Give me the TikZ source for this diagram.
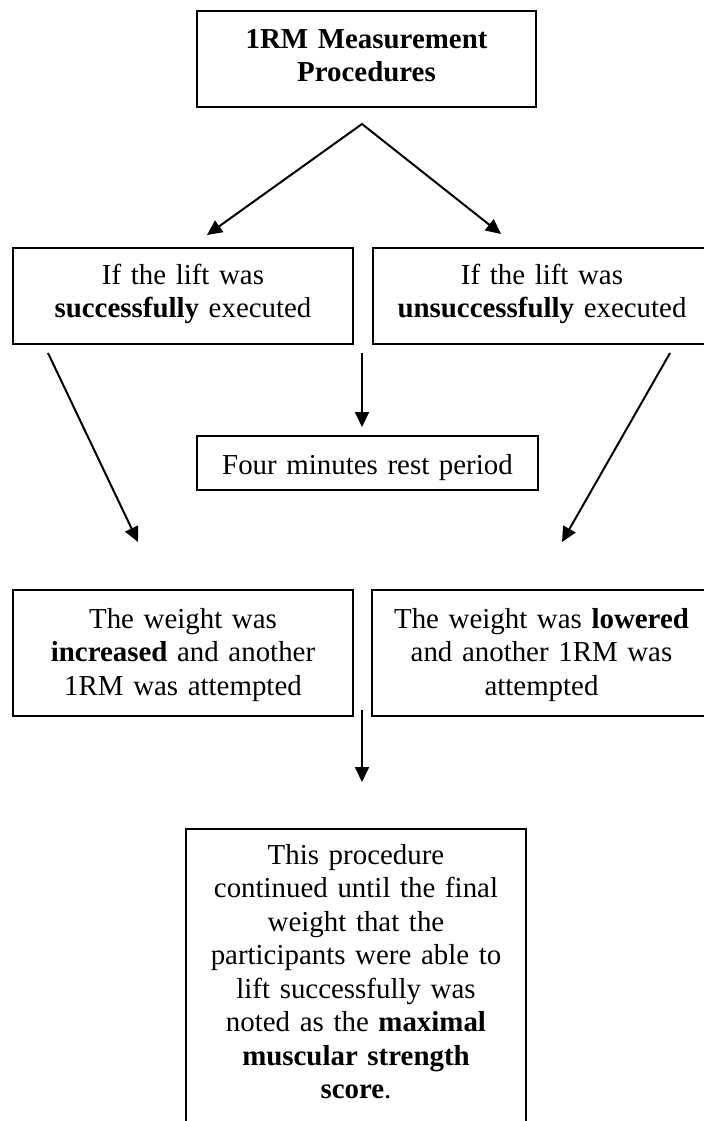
\documentclass[tikz,border=0pt]{standalone}
\usepackage{fontspec}
\setmainfont{Liberation Serif}
\usetikzlibrary{arrows.meta}
\begin{document}
\begin{tikzpicture}[x=0.5pt,y=-0.5pt,
  box/.style={draw, line width=1pt, inner sep=0pt, align=center, anchor=north west,
    font=\fontsize{14.45pt}{16.75pt}\selectfont},
  tipstyle/.style={line width=1pt},
  conn/.style={line width=1pt, -{Triangle[length=7.5pt,width=7pt]}},
  conn2/.style={line width=1pt, {Triangle[length=7.5pt,width=7pt]}-{Triangle[length=7.5pt,width=7pt]}}]
\useasboundingbox (0,0) rectangle (704,1121);

\node[box, text width=169.5pt, text height=18.5pt, text depth=29.5pt] (top) at (196,10)
  {\textbf{1RM Measurement}\\\textbf{Procedures}};
\node[box, text width=170pt, text height=18pt, text depth=30pt] (succ) at (12,247)
  {If the lift was\\\textbf{successfully} executed};
\node[box, text width=169pt, text height=18pt, text depth=30pt] (unsucc) at (372,247)
  {If the lift was\\\textbf{unsuccessfully} executed};
\node[box, text width=170.5pt, text height=19pt, text depth=8pt] (rest) at (196,435)
  {Four minutes rest period};
\node[box, text width=170pt, text height=19pt, text depth=44pt] (inc) at (12,589)
  {The weight was\\\textbf{increased} and another\\1RM was attempted};
\node[box, text width=169.5pt, text height=19pt, text depth=44pt] (low) at (371,589)
  {The weight was \textbf{lowered}\\and another 1RM was\\attempted};
\node[box, text width=170pt, text height=17.5pt, text depth=142.5pt] (final) at (185,828)
  {This procedure\\continued until the final\\weight that the\\participants were able to\\lift successfully was\\noted as the \textbf{maximal}\\\textbf{muscular strength}\\\textbf{score}.};

\coordinate (apex) at (362,124);
\coordinate (tl) at (207,235);
\coordinate (tr) at (501,234);
\coordinate (m1) at (362,353);
\coordinate (m2) at (362,427);
\coordinate (l1) at (48,353);
\coordinate (l2) at (138,542);
\coordinate (r1) at (670,353);
\coordinate (r2) at (562,542);
\coordinate (b1) at (362,710);
\coordinate (b2) at (362,782);

\draw[conn2] (tl) -- (apex) -- (tr);
\draw[conn] (m1) -- (m2);
\draw[conn] (l1) -- (l2);
\draw[conn] (r1) -- (r2);
\draw[conn] (b1) -- (b2);
\end{tikzpicture}
\end{document}
